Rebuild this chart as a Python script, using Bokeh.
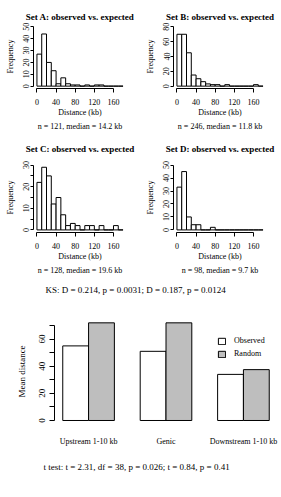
import numpy as np
from bokeh.plotting import figure
from bokeh.models import Range1d, FixedTicker, Legend, LegendItem, Title
from bokeh.layouts import column, row
from bokeh.embed import file_html
from bokeh.resources import INLINE

FONT = "Liberation Serif"

# ---------------- data ----------------
breaks = np.arange(0, 190, 10)          # histogram bin edges
x_ticks = [0, 40, 80, 120, 160]

counts_a = [27, 44, 20, 13, 2, 7, 2, 1, 1, 0, 1, 0, 1, 1, 0, 0, 0, 0]
counts_b = [70, 70, 45, 15, 10, 6, 3, 2, 2, 0, 2, 0, 0, 0, 0, 0, 2, 0]
counts_c = [22, 29, 25, 12, 15, 7, 2, 3, 2, 0, 2, 2, 0, 2, 0, 0, 2, 0]
counts_d = [33, 45, 10, 4, 4, 0, 0, 2, 0, 0, 0, 0, 0, 0, 0, 0, 0, 0]

hist_titles = ["Set A: observed vs. expected", "Set B: observed vs. expected",
               "Set C: observed vs. expected", "Set D: observed vs. expected"]
hist_xlab = "Distance (kb)"
hist_sub = ["n = 121, median = 14.2 kb", "n = 246, median = 11.8 kb",
            "n = 128, median = 19.6 kb", "n = 98, median = 9.7 kb"]
hist_ymax = [50, 80, 30, 50]
hist_ystep = [10, 20, 5, 10]
hist_ylab_step = [10, 20, 10, 10]
hist_ylab = "Frequency"

caption_1 = "KS:   D = 0.214,  p = 0.0031;   D = 0.187,  p = 0.0124"

regions = ["Upstream 1-10 kb", "Genic", "Downstream 1-10 kb"]
observed = [55, 51, 34]
randomized = [72, 72, 37.5]
bar_ticks = [0, 10, 20, 30, 40, 50, 60, 70]
bar_ylab = "Mean distance"
legend_labels = ["Observed", "Random"]
caption_2 = "t test:  t = 2.31,  df = 38,  p = 0.026;   t = 0.84,  p = 0.41"


def style_axes(p):
    p.grid.visible = False
    p.outline_line_color = None
    p.background_fill_color = "white"
    p.border_fill_color = "white"
    for ax in p.axis:
        ax.major_label_text_font = FONT
        ax.axis_label_text_font = FONT
        ax.major_label_text_color = "black"
        ax.axis_label_text_color = "black"
        ax.axis_line_color = "black"
        ax.major_tick_line_color = "black"
        ax.minor_tick_line_color = None
        ax.major_tick_in = 0


def hist_panel(counts, ymax, ystep, ylstep, title, sub, width, fig_h, top, frame_h, t_stand):
    left, frame_w = 33, 93
    p = figure(width=width, height=fig_h, x_range=Range1d(-7.2, 187.2),
               y_range=Range1d(-0.04 * ymax, 1.04 * ymax), output_backend="svg",
               toolbar_location=None, min_border_left=left,
               min_border_right=width - left - frame_w, min_border_top=top,
               min_border_bottom=fig_h - top - frame_h)
    p.quad(left=breaks[:-1], right=breaks[1:], bottom=0, top=counts,
           fill_color="white", line_color="black", line_width=1)
    style_axes(p)
    p.title.text = title
    p.title.align = "center"
    p.title.text_font = FONT
    p.title.text_font_size = "9px"
    p.title.text_font_style = "bold"
    p.title.text_color = "black"
    p.title.standoff = t_stand
    yt = list(range(0, ymax + 1, ystep))
    p.yaxis.ticker = FixedTicker(ticks=yt)
    p.yaxis.bounds = (0, ymax)
    p.yaxis.major_label_overrides = {t: (str(t) if t % ylstep == 0 else "") for t in yt}
    p.yaxis.major_label_orientation = "vertical"
    p.yaxis.major_tick_out = 3
    p.yaxis.major_label_standoff = 1
    p.yaxis.major_label_text_font_size = "8px"
    p.yaxis.axis_label = hist_ylab
    p.yaxis.axis_label_text_font_size = "8px"
    p.yaxis.axis_label_text_font_style = "normal"
    p.yaxis.axis_label_standoff = 6
    p.xaxis.ticker = FixedTicker(ticks=x_ticks)
    p.xaxis.bounds = (0, 160)
    p.xaxis.major_tick_out = 4
    p.xaxis.major_label_standoff = 6
    p.xaxis.major_label_text_font_size = "8px"
    p.xaxis.axis_label = hist_xlab
    p.xaxis.axis_label_text_font_size = "8px"
    p.xaxis.axis_label_text_font_style = "normal"
    p.xaxis.axis_label_standoff = 0
    p.add_layout(Title(text=sub, align="center", text_font=FONT, text_font_size="8px",
                       text_font_style="normal", text_color="black", standoff=0), "below")
    return p


h1 = hist_panel(counts_a, hist_ymax[0], hist_ystep[0], hist_ylab_step[0], hist_titles[0], hist_sub[0], 140, 130, 24, 69, 6)
h2 = hist_panel(counts_b, hist_ymax[1], hist_ystep[1], hist_ylab_step[1], hist_titles[1], hist_sub[1], 141, 130, 24, 69, 6)
h3 = hist_panel(counts_c, hist_ymax[2], hist_ystep[2], hist_ylab_step[2], hist_titles[2], hist_sub[2], 140, 145, 32, 70, 18)
h4 = hist_panel(counts_d, hist_ymax[3], hist_ystep[3], hist_ylab_step[3], hist_titles[3], hist_sub[3], 141, 145, 32, 70, 18)

# ---------------- caption line between the two blocks ----------------
cap = figure(width=281, height=23, output_backend="svg", toolbar_location=None,
             x_axis_location=None, y_axis_location=None, min_border_top=19,
             min_border_bottom=0, min_border_left=54, min_border_right=4,
             x_range=Range1d(0, 1), y_range=Range1d(0, 1))
cap.grid.visible = False
cap.outline_line_color = None
cap.title.text = caption_1
cap.title.align = "left"
cap.title.offset = -9
cap.title.standoff = 0
cap.title.text_font = FONT
cap.title.text_font_size = "9px"
cap.title.text_font_style = "normal"
cap.title.text_color = "black"

# ---------------- bar chart ----------------
g = np.arange(len(regions))
x_obs = 1.5 + 3 * g
x_rnd = 2.5 + 3 * g
fig_h, frame_top, frame_h = 199, 20, 106
b = figure(width=281, height=fig_h, x_range=Range1d(0.68, 9.32), y_range=Range1d(-2.95, 75.2),
           output_backend="svg", toolbar_location=None, min_border_left=54,
           min_border_right=4, min_border_top=frame_top,
           min_border_bottom=fig_h - frame_top - frame_h)
r1 = b.vbar(x=x_obs, top=observed, width=1, bottom=0, fill_color="white", line_color="black")
r2 = b.vbar(x=x_rnd, top=randomized, width=1, bottom=0, fill_color="#bebebe", line_color="black")
style_axes(b)
b.yaxis.ticker = FixedTicker(ticks=bar_ticks)
b.yaxis.bounds = (0, 70)
b.yaxis.major_label_overrides = {t: (str(t) if t % 20 == 0 else "") for t in bar_ticks}
b.yaxis.major_label_orientation = "vertical"
b.yaxis.major_tick_out = 5
b.yaxis.major_label_standoff = 4
b.yaxis.major_label_text_font_size = "9px"
b.yaxis.axis_label = bar_ylab
b.yaxis.axis_label_text_font_size = "9px"
b.yaxis.axis_label_text_font_style = "normal"
b.yaxis.axis_label_standoff = 10
b.xaxis.ticker = FixedTicker(ticks=list(2.0 + 3 * g))
b.xaxis.major_label_overrides = {float(2.0 + 3 * i): regions[i] for i in g}
b.xaxis.axis_line_color = None
b.xaxis.major_tick_line_color = None
b.xaxis.major_tick_out = 0
b.xaxis.major_label_standoff = 12
b.xaxis.major_label_text_font_size = "8px"

leg = Legend(items=[LegendItem(label=legend_labels[0], renderers=[r1]),
                    LegendItem(label=legend_labels[1], renderers=[r2])],
             location=(163, 66), orientation="vertical", glyph_width=9, glyph_height=8,
             label_standoff=8, spacing=4, padding=0, margin=0,
             border_line_color=None, background_fill_alpha=0,
             label_text_font=FONT, label_text_font_size="8px", label_text_color="black")
b.add_layout(leg, "center")

b.add_layout(Title(text=caption_2, align="left", offset=-11, text_font=FONT,
                   text_font_size="9px", text_font_style="normal", text_color="black",
                   standoff=22), "below")

layout = column(row(h1, h2, spacing=0), row(h3, h4, spacing=0), cap, b, spacing=0)
open("out.html", "w").write(file_html(layout, INLINE))
